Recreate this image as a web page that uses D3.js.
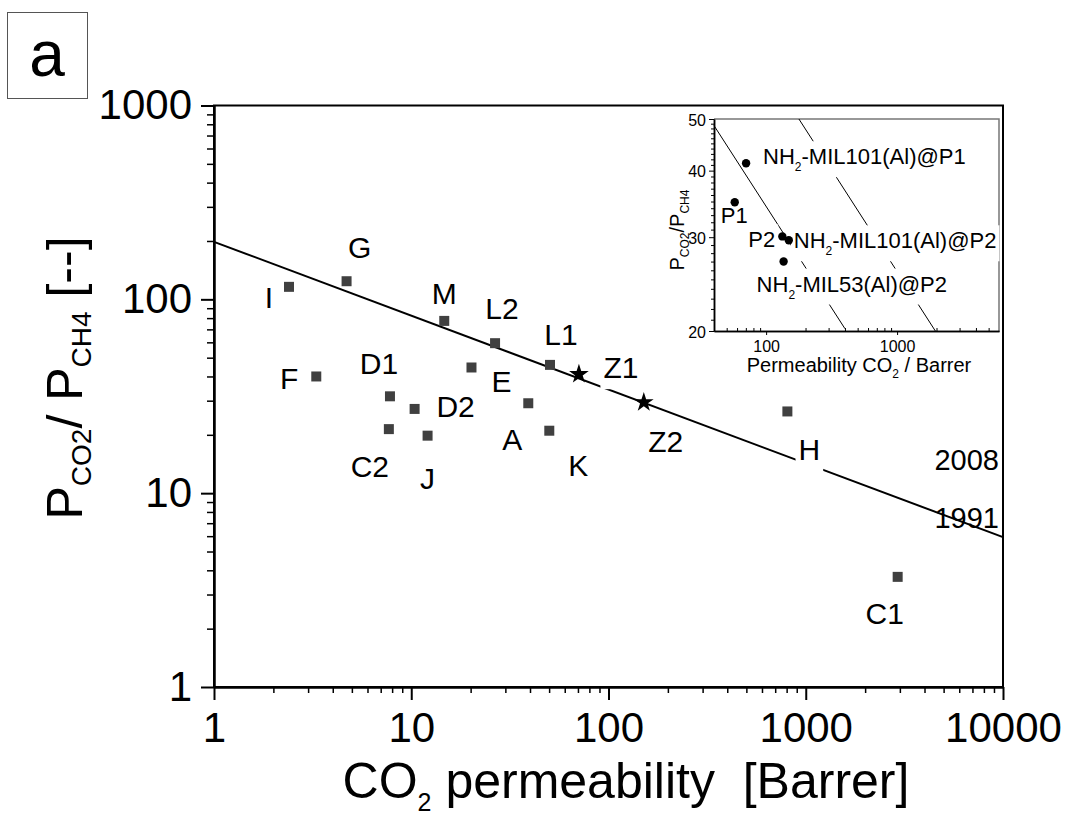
<!DOCTYPE html>
<meta charset="utf-8">
<style>
  body { margin: 0; background: #fff; }
  text { font-family: "Liberation Sans", Arial, sans-serif; fill: #000; }
</style>
<svg id="chart" width="1074" height="816"></svg>
<script src="https://d3js.org/d3.v7.min.js"></script>
<script>

// ---- main plot data ----
const names = ["I", "G", "M", "L2", "L1", "E", "F", "D1", "D2", "A", "C2", "J", "K", "H", "C1"];
const perm  = [2.4, 4.7, 14.7, 26.6, 50.5, 20.2, 3.3, 7.8, 10.4, 39.2, 7.7, 12.1, 50.1, 807, 2924];
const sel   = [116, 124, 77.4, 59.4, 45.9, 44.5, 40.0, 31.6, 27.2, 29.1, 21.4, 19.8, 21.0, 26.4, 3.7];

const starNames = ["Z1", "Z2"];
const starPerm  = [70.8, 151];
const starSel   = [41.1, 29.4];

// Robeson upper bound (1991), end points
const bound1991 = [[1, 198], [10000, 5.93]];
const boundNames = ["2008", "1991"];
const boundSel   = [13.1, 6.6];

const xTicks = [1, 10, 100, 1000, 10000];
const yTicks = [1, 10, 100, 1000];

// ---- inset data ----
const insetNames = ["NH_{2}-MIL101(Al)@P1", "P1", "P2", "NH_{2}-MIL101(Al)@P2", "NH_{2}-MIL53(Al)@P2"];
const insetPerm  = [70.3, 57.6, 133, 149, 136];
const insetSel   = [41.3, 34.9, 30.1, 29.6, 27.0];
const insetBound1991 = [[40, 48.6], [400, 20.2]];
const insetBound2008 = [[178, 50], [1960, 20]];
const insetXTicks = [100, 1000];
const insetYTicks = [20, 30, 40, 50];

// label offsets in px from their marker (centre / baseline)
const labelOffsets = [[-20, 21], [13, -23], [0, -17], [7, -24], [11, -20], [30, 25], [-27, 13], [-11, -22],
                      [41, 8], [-16, 47], [-19, 48], [0, 53], [29, 45], [22, 49], [-13, 47]];
const starOffsets = [[42, 4], [22, 50]];
const insetOffsets = [[17, 1], [-14, 21], [-34, 11], [5, 8], [-27, 30]];
const masked = ["Z1", "Z2", "H"];

const svg = d3.select("#chart");

const x = d3.scaleLog().domain([1, 10000]).range([214, 1003]);
const y = d3.scaleLog().domain([1, 1000]).range([687, 105.5]);

function minors(dom) {
  const out = [];
  for (let p = Math.floor(Math.log10(dom[0])); p < Math.ceil(Math.log10(dom[1])); p++)
    for (let k = 2; k <= 9; k++) {
      const v = k * Math.pow(10, p);
      if (v > dom[0] && v < dom[1]) out.push(v);
    }
  return out;
}

// text with _{..} subscripts
function rich(t, str, subSize, shift) {
  let down = false;
  str.split(/_\{([^}]*)\}/).forEach((p, i) => {
    if (!p) return;
    const ts = t.append("tspan").text(p);
    if (i % 2) { ts.attr("font-size", subSize).attr("dy", down ? 0 : shift); down = true; }
    else { if (down) ts.attr("dy", -shift); down = false; }
  });
  return t;
}

function styleAxis(g, w) {
  g.attr("font-family", null).attr("font-size", null);
  g.selectAll("line").attr("stroke", "#000").attr("stroke-width", w);
  g.select(".domain").attr("stroke", "#000").attr("stroke-width", 2);
}

// panel letter
svg.append("rect").attr("x", 7.5).attr("y", 12.5).attr("width", 80).attr("height", 86)
  .attr("fill", "none").attr("stroke", "#555").attr("stroke-width", 1);
svg.append("text").attr("x", 47).attr("y", 76).attr("text-anchor", "middle")
  .attr("font-size", 64).text("a");

// ---- main axes ----
const gxMin = svg.append("g").attr("transform", `translate(0,${y(1)})`)
  .call(d3.axisBottom(x).tickValues(minors(x.domain())).tickSize(6).tickSizeOuter(0).tickFormat(""));
styleAxis(gxMin, 1.5);
const gx = svg.append("g").attr("transform", `translate(0,${y(1)})`)
  .call(d3.axisBottom(x).tickValues(xTicks).tickSize(13).tickSizeOuter(0).tickFormat(d3.format("d")));
styleAxis(gx, 2);
gx.selectAll("text").attr("y", 55).attr("dy", null).attr("font-size", 42);

const gyMin = svg.append("g").attr("transform", `translate(${x(1)},0)`)
  .call(d3.axisLeft(y).tickValues(minors(y.domain())).tickSize(7).tickSizeOuter(0).tickFormat(""));
styleAxis(gyMin, 1.5);
const gy = svg.append("g").attr("transform", `translate(${x(1)},0)`)
  .call(d3.axisLeft(y).tickValues(yTicks).tickSize(13).tickSizeOuter(0).tickFormat(d3.format("d")));
styleAxis(gy, 2);
gy.selectAll("text").attr("x", -22).attr("dy", 13).attr("font-size", 42);

svg.append("rect").attr("x", x(1)).attr("y", y(1000))
  .attr("width", x(10000) - x(1)).attr("height", y(1) - y(1000))
  .attr("fill", "none").attr("stroke", "#000").attr("stroke-width", 2);

// axis titles
rich(svg.append("text").attr("x", 626).attr("y", 798).attr("text-anchor", "middle")
  .attr("font-size", 50).style("white-space", "pre"),
  "CO_{2} permeability  [Barrer]", 25, 13);
rich(svg.append("text").attr("transform", "translate(82,378) rotate(-90)").attr("text-anchor", "middle")
  .attr("font-size", 50), "P_{CO2}/ P_{CH4} [--]", 28, 9);

// upper bound line
const line = d3.line().x(d => x(d[0])).y(d => y(d[1]));
svg.append("path").datum(bound1991).attr("d", line)
  .attr("fill", "none").attr("stroke", "#000").attr("stroke-width", 2);

svg.selectAll("text.bound").data(boundNames).join("text").attr("class", "bound")
  .attr("x", x(10000) - 4).attr("y", (d, i) => y(boundSel[i]))
  .attr("text-anchor", "end").attr("font-size", 29).text(d => d);

// point labels
const labGroup = svg.append("g");
function addLabel(g, txt, px, py, off, anchor, size, mask) {
  const t = g.append("text").attr("x", px + off[0]).attr("y", py + off[1])
    .attr("text-anchor", anchor).attr("font-size", size);
  rich(t, txt, size * 0.55, size * 0.3);
  if (mask) {
    const b = t.node().getBBox();
    g.insert("rect", () => t.node()).attr("x", b.x - 3).attr("y", b.y - 5)
      .attr("width", b.width + 6).attr("height", b.height + 10).attr("fill", "#fff");
  }
}
names.forEach((n, i) => addLabel(labGroup, n, x(perm[i]), y(sel[i]), labelOffsets[i], "middle", 30, masked.includes(n)));
starNames.forEach((n, i) => addLabel(labGroup, n, x(starPerm[i]), y(starSel[i]), starOffsets[i], "middle", 30, masked.includes(n)));

// markers
svg.selectAll("path.sq").data(names).join("path").attr("class", "sq")
  .attr("d", d3.symbol(d3.symbolSquare, 100))
  .attr("transform", (d, i) => `translate(${x(perm[i])},${y(sel[i])})`)
  .attr("fill", "#404040");
svg.selectAll("path.star").data(starNames).join("path").attr("class", "star")
  .attr("d", d3.symbol(d3.symbolStar, 120))
  .attr("transform", (d, i) => `translate(${x(starPerm[i])},${y(starSel[i])})`)
  .attr("fill", "#000");

// ---- inset ----
const xi = d3.scaleLog().domain([40, 6000]).range([714, 999]);
const yi = d3.scaleLog().domain([20, 50]).range([331, 119]);
const inset = svg.append("g");

inset.append("path").attr("d", `M${xi(40)},${yi(50)}H${xi(6000)}V${yi(20)}`)
  .attr("fill", "none").attr("stroke", "#777").attr("stroke-width", 1.5);

const lineI = d3.line().x(d => xi(d[0])).y(d => yi(d[1]));
[insetBound1991, insetBound2008].forEach(b => {
  inset.append("path").datum(b).attr("d", lineI)
    .attr("fill", "none").attr("stroke", "#000").attr("stroke-width", 1);
});

const giMin = inset.append("g").attr("transform", `translate(0,${yi(20)})`)
  .call(d3.axisTop(xi).tickValues(minors(xi.domain())).tickSize(3).tickSizeOuter(0).tickFormat(""));
styleAxis(giMin, 1);
const gi = inset.append("g").attr("transform", `translate(0,${yi(20)})`)
  .call(d3.axisBottom(xi).tickValues(insetXTicks).tickSize(4).tickSizeOuter(0).tickFormat(d3.format("d")));
styleAxis(gi, 1);
gi.selectAll("text").attr("y", 21).attr("dy", null).attr("font-size", 16);
gi.selectAll(".domain").attr("stroke-width", 1.5);
giMin.selectAll(".domain").attr("stroke-width", 1.5);

const gyiMin = inset.append("g").attr("transform", `translate(${xi(40)},0)`)
  .call(d3.axisLeft(yi).tickValues(d3.range(21, 50).filter(v => v % 10)).tickSize(3).tickSizeOuter(0).tickFormat(""));
styleAxis(gyiMin, 1);
const gyi = inset.append("g").attr("transform", `translate(${xi(40)},0)`)
  .call(d3.axisLeft(yi).tickValues(insetYTicks).tickSize(5).tickSizeOuter(0).tickFormat(d3.format("d")));
styleAxis(gyi, 1);
gyi.selectAll("text").attr("x", -8).attr("dy", 6).attr("font-size", 16);
gyi.selectAll(".domain").attr("stroke-width", 1.5);
gyiMin.selectAll(".domain").attr("stroke-width", 1.5);

rich(inset.append("text").attr("x", 859).attr("y", 372).attr("text-anchor", "middle").attr("font-size", 20),
  "Permeability CO_{2} / Barrer", 12, 6);
rich(inset.append("text").attr("transform", "translate(684,230) rotate(-90)").attr("text-anchor", "middle")
  .attr("font-size", 20), "P_{CO2}/P_{CH4}", 12, 5);

const insetLabs = inset.append("g");
insetNames.forEach((n, i) => {
  const t = insetLabs.append("text").attr("x", xi(insetPerm[i]) + insetOffsets[i][0])
    .attr("y", yi(insetSel[i]) + insetOffsets[i][1]).attr("font-size", 22);
  rich(t, n, 12, 7);
  const b = t.node().getBBox();
  insetLabs.insert("rect", () => t.node()).attr("x", b.x - 3).attr("y", b.y - 3)
    .attr("width", b.width + 6).attr("height", b.height + 6).attr("fill", "#fff");
});

inset.selectAll("circle").data(insetNames).join("circle")
  .attr("cx", (d, i) => xi(insetPerm[i])).attr("cy", (d, i) => yi(insetSel[i]))
  .attr("r", 4.2).attr("fill", "#000");
</script>
